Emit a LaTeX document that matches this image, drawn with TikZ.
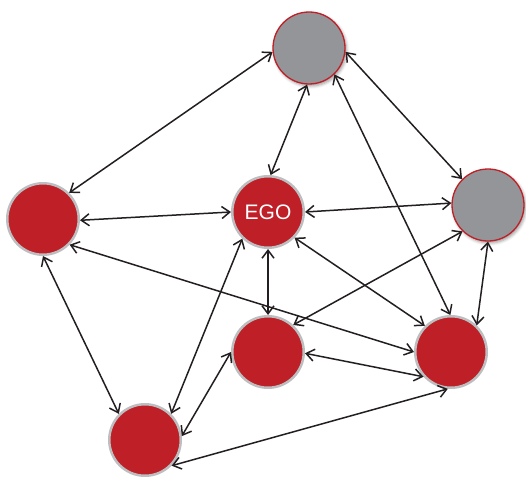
\documentclass[tikz,border=0pt]{standalone}
\usepackage{fontspec}
\setmainfont{Liberation Sans}
\usetikzlibrary{arrows.meta,shadows.blur}
\definecolor{egored}{HTML}{BF1F27}
\definecolor{nodegray}{HTML}{939598}
\definecolor{rimgray}{HTML}{BCBEC0}
\definecolor{ink}{HTML}{231F20}
\begin{document}
\begin{tikzpicture}[x=1pt,y=-1pt,
  rednode/.style={circle, fill=egored, draw=rimgray, line width=2.5pt, minimum size=71.5pt, inner sep=0pt},
  graynode/.style={circle, fill=nodegray, draw=egored, line width=1.3pt, minimum size=72pt, inner sep=0pt,
    blur shadow={shadow xshift=1.5pt, shadow yshift=-2pt, shadow blur radius=3pt, shadow opacity=40}},
  link/.style={draw=ink, line width=1.5pt, {Straight Barb[length=8pt,width=12pt]}-{Straight Barb[length=8pt,width=12pt]}}]
\useasboundingbox (0,0) rectangle (526,476);
\node[graynode] (T) at (309,48) {};
\node[graynode] (R) at (488,205) {};
\node[rednode, text=white, font=\fontsize{21}{21}\selectfont] (E) at (268,212) {EGO};
\node[rednode] (L) at (43,219) {};
\node[rednode] (M) at (268,352) {};
\node[rednode] (RB) at (451,352) {};
\node[rednode] (BL) at (145,440) {};
\draw[link] (T.186) -- (L.45);
\draw[link] (T.267) -- (E.86);
\draw[link] (T.354) -- (R.135);
\draw[link] (T.314) -- (RB.91);
\draw[link] (L.358) -- (E.180);
\draw[link] (E.0) -- (R.177);
\draw[link] (L.316) -- (RB.180);
\draw[link] (L.270) -- (BL.135);
\draw[link] (E.270) -- (M.90);
\draw[link] (E.226) -- (BL.45);
\draw[link] (E.316) -- (RB.135);
\draw[link] (M.180) -- (BL.6);
\draw[link] (R.226) -- (M.47);
\draw[link] (R.270) -- (RB.46);
\draw[link] (M.358) -- (RB.222);
\draw[link] (BL.316) -- (RB.265);
\end{tikzpicture}
\end{document}
